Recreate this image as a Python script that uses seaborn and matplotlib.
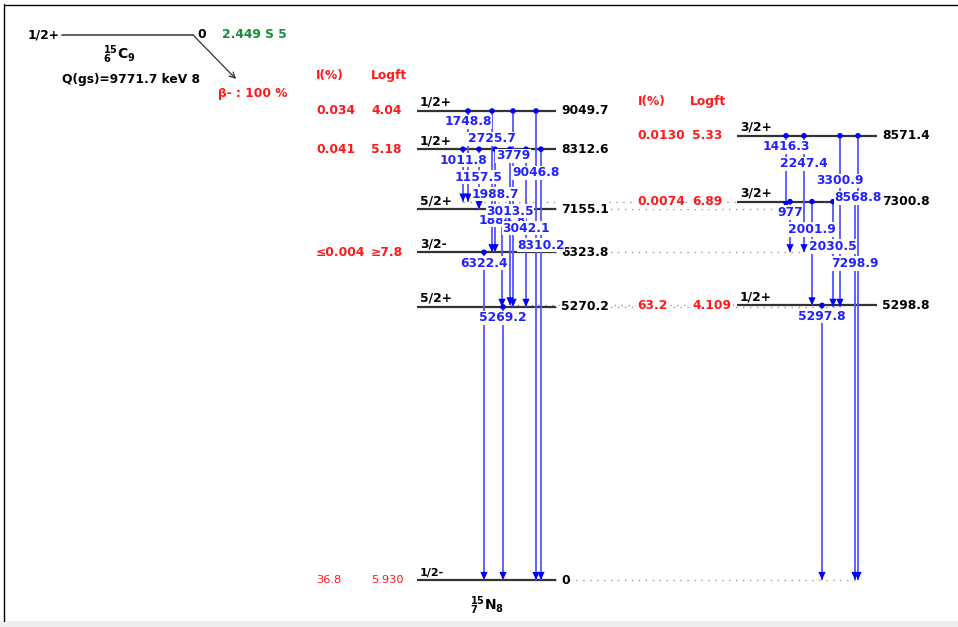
import matplotlib
matplotlib.use('Agg')
import matplotlib.pyplot as plt
from matplotlib.path import Path
from matplotlib.markers import MarkerStyle
import pandas as pd
import seaborn as sns

sns.set_theme(style='white')
plt.rcParams['font.family'] = ['DejaVu Sans']
plt.rcParams['mathtext.default'] = 'bf'
plt.rcParams['text.color'] = 'black'

# ---- data: 15C (1/2+, Q=9771.7 keV) beta- decay to 15N ----
left_energy = [0.0, 5270.2, 6323.8, 7155.1, 8312.6, 9049.7]
left_label = ['0', '5270.2', '6323.8', '7155.1', '8312.6', '9049.7']
left_spin = ['1/2-', '5/2+', '3/2-', '5/2+', '1/2+', '1/2+']
left_intensity = ['36.8', '', '≤0.004', '', '0.041', '0.034']
left_logft = ['5.930', '', '≥7.8', '', '5.18', '4.04']

right_energy = [5298.8, 7300.8, 8571.4]
right_label = ['5298.8', '7300.8', '8571.4']
right_spin = ['1/2+', '3/2+', '3/2+']
right_intensity = ['63.2', '0.0074', '0.0130']
right_logft = ['4.109', '6.89', '5.33']

gamma_label = ['5269.2', '6322.4', '1884.8',
               '1011.8', '1157.5', '1988.7', '3013.5', '3042.1', '8310.2',
               '1748.8', '2725.7', '3779', '9046.8',
               '5297.8',
               '977', '2001.9', '2030.5', '7298.9',
               '1416.3', '2247.4', '3300.9', '8568.8']
gamma_from = [5270.2, 6323.8, 7155.1,
              8312.6, 8312.6, 8312.6, 8312.6, 8312.6, 8312.6,
              9049.7, 9049.7, 9049.7, 9049.7,
              5298.8,
              7300.8, 7300.8, 7300.8, 7300.8,
              8571.4, 8571.4, 8571.4, 8571.4]
gamma_to = [0.0, 0.0, 5270.2,
            7300.8, 7155.1, 6323.8, 5298.8, 5270.2, 0.0,
            7300.8, 6323.8, 5270.2, 0.0,
            0.0,
            6323.8, 5298.8, 5270.2, 0.0,
            7155.1, 6323.8, 5270.2, 0.0]

# ---- layout (pixels) ----
W, H = 958, 627
PX_PER_KEV = 0.05183
ZERO_ROW = 580
gamma_x = [503, 484, 502,
           463, 479, 495, 510, 526, 541,
           468, 492, 513, 536,
           822,
           790, 812, 833, 855,
           786, 804, 840, 858]
left_dot_end = [858, 840, 804, 786, None, None]
right_dot_start = [510, 463, None]

RED = '#ff1a1a'
BLUE = '#0000ff'
LINE_BLUE = '#5555ff'
TXT_BLUE = '#2222ff'
FS = 8.8
PT = 72 / 100  # points per pixel

fig = plt.figure(figsize=(W / 100, H / 100), dpi=100)
ax = fig.add_axes([0, 0, 1, 1])
ax.set_xlim(0, W)
ax.set_ylim((ZERO_ROW - H) / PX_PER_KEV, ZERO_ROW / PX_PER_KEV)
ax.axis('off')

white = dict(boxstyle='square,pad=0.05', fc='white', ec='none')


def level(ax, e, x0, x1, spin, lab, lab_x, inten, lft, ix, lx, bottom=False):
    ax.hlines(e, x0, x1, color='#333333', lw=1.6, zorder=2)
    w = 'bold'
    ax.annotate(spin, (x0 + 3, e), xytext=(0, 2 * PT), textcoords='offset points',
                ha='left', va='bottom', fontsize=FS - (0.8 if bottom else 0),
                fontweight=w, color='black', zorder=6)
    ax.text(lab_x, e, lab, ha='left', va='center', fontsize=FS, fontweight=w,
            color='black', bbox=white, zorder=5)
    rw = 'normal' if bottom else 'bold'
    rs = FS - 0.6 if bottom else FS
    if inten:
        ax.text(ix, e, inten, ha='left', va='center', fontsize=rs, fontweight=rw,
                color=RED, bbox=white, zorder=5)
    if lft:
        ax.text(lx, e, lft, ha='left', va='center', fontsize=rs, fontweight=rw,
                color=RED, bbox=white, zorder=5)


dots = dict(linestyle=(0, (1, 4)), color='#999999', lw=1.0, zorder=1)
for i, e in enumerate(left_energy):
    if left_dot_end[i] is not None:
        ax.hlines(e, 548, left_dot_end[i], **dots)
    level(ax, e, 417, 556, left_spin[i], left_label[i], 561,
          left_intensity[i], left_logft[i], 316, 371, bottom=(e == 0))
for i, e in enumerate(right_energy):
    if right_dot_start[i] is not None:
        ax.hlines(e, right_dot_start[i], 737, **dots)
    level(ax, e, 737, 877, right_spin[i], right_label[i], 882,
          right_intensity[i], right_logft[i], 637, 692)

# gamma transitions
gam = pd.DataFrame({'label': gamma_label, 'e_from': gamma_from,
                    'e_to': gamma_to, 'x': gamma_x})
ax.vlines(gam['x'], gam['e_to'], gam['e_from'], color=LINE_BLUE, lw=1.3, zorder=3)
sns.scatterplot(data=gam, x='x', y='e_from', color=BLUE, s=16, marker='o',
                edgecolor='none', ax=ax, zorder=4)
head = Path([(0, 0), (-0.45, 1), (0.45, 1), (0, 0)])
sns.scatterplot(data=gam, x='x', y='e_to', color=BLUE, s=135,
                marker=MarkerStyle(head), edgecolor='none', ax=ax, zorder=4)
gam['k'] = gam.groupby('e_from').cumcount()
for _, g in gam.iterrows():
    ax.annotate(g['label'], (g['x'], g['e_from']),
                xytext=(0, -(11 + 17 * g['k']) * PT), textcoords='offset points',
                ha='center', va='center', fontsize=FS, fontweight='bold',
                color=TXT_BLUE, bbox=white, zorder=7)
ax.set_xlim(0, W)
ax.set_ylim((ZERO_ROW - H) / PX_PER_KEV, ZERO_ROW / PX_PER_KEV)
ax.axis('off')

# ---- fixed parts in pixel space ----
top = fig.add_axes([0, 0, 1, 1])
top.set_xlim(0, W)
top.set_ylim(H, 0)
top.axis('off')
top.patch.set_alpha(0)

top.axhspan(621, H, color='#eeeeee', lw=0)
top.plot([4.5, 4.5], [4, 621], color='black', lw=1)
top.plot([4, W], [4.5, 4.5], color='black', lw=1)

# parent
top.text(28, 35, '1/2+', ha='left', va='center', fontsize=FS, fontweight='bold')
top.plot([62, 193], [35, 35], color='#555555', lw=1.3)
top.text(197, 35, '0', ha='left', va='center', fontsize=FS, fontweight='bold')
top.text(222, 35, '2.449 S 5', ha='left', va='center', fontsize=FS,
         fontweight='bold', color='#1a8a3a')
top.text(119, 55, r'$^{15}_{6}C_{9}$', ha='center', va='center', fontsize=10)
top.text(131, 80, 'Q(gs)=9771.7 keV 8', ha='center', va='center', fontsize=FS,
         fontweight='bold')
top.annotate('', xy=(236, 79), xytext=(193, 35),
             arrowprops=dict(arrowstyle='->', color='#333333', lw=0.9,
                             mutation_scale=10, shrinkA=0, shrinkB=0))
top.text(218, 93, 'β- : 100 %', ha='left', va='center', fontsize=FS,
         fontweight='bold', color=RED)

# column headers
for hx, hy, t in [(316, 76, 'I(%)'), (371, 76, 'Logft'),
                  (638, 101, 'I(%)'), (690, 101, 'Logft')]:
    top.text(hx, hy, t, ha='left', va='center', fontsize=FS, fontweight='bold',
             color=RED)

top.text(487, 606, r'$^{15}_{7}N_{8}$', ha='center', va='center', fontsize=10)

fig.savefig('out.png', dpi=100, facecolor='white')
